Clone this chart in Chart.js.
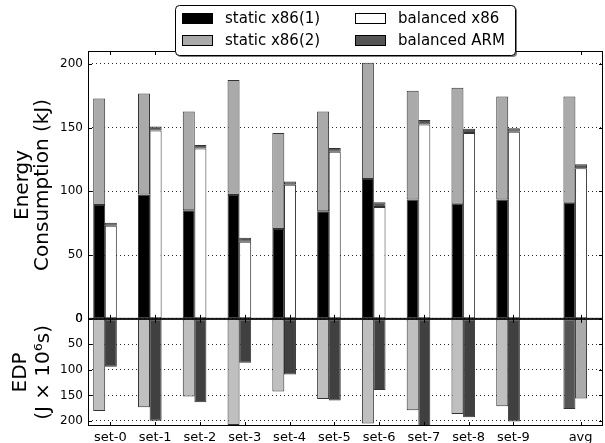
<!DOCTYPE html>
<html>
<head>
<meta charset="utf-8">
<script src="https://cdn.jsdelivr.net/npm/chart.js@4"></script>
<style>
  body { margin: 0; background: #fff; }
  canvas { display: block; }
</style>
</head>
<body>
<canvas id="grafico" width="605" height="443"></canvas>
<script>
// categorias e posicoes no eixo x (avg fica afastado)
const categories = ['set-0', 'set-1', 'set-2', 'set-3', 'set-4', 'set-5', 'set-6', 'set-7', 'set-8', 'set-9', 'avg'];
const catPos = [0, 1, 2, 3, 4, 5, 6, 7, 8, 9, 10.5];
const seriesNames = ['static x86(1)', 'static x86(2)', 'balanced x86', 'balanced ARM'];

// energia (kJ)
const staticX86_1 = [89.3, 97.4, 85.1, 97.1, 70.4, 84.3, 109.7, 93.5, 90.3, 93.5, 91.1];
const staticX86_2 = [83.5, 79.3, 77.5, 90.1, 75.4, 78.3, 91.1, 85.3, 90.9, 80.8, 83.2];
const balancedX86 = [73.0, 147.6, 133.5, 60.5, 105.2, 131.1, 87.7, 152.4, 145.8, 146.6, 118.1];
const balancedARM = [2.4, 3.2, 2.9, 3.1, 2.4, 2.9, 3.7, 3.6, 3.2, 2.9, 3.1];

// EDP (J x 10^6 s)
const edpStatic = [180.6, 173.3, 152.3, 208, 142.5, 157, 204.9, 179.2, 186.5, 171.4, 176.6];
const edpBalanced = [93.9, 199.6, 163.5, 86, 109, 160.2, 139.2, 220, 193, 201, 156.3];

const energyTicks = [0, 50, 100, 150, 200];
const edpTicks = [0, 50, 100, 150, 200];

const font = { family: 'DejaVu Sans', size: 12 };
const edge = '#333333';

const pts = (vals, shift) => vals.map((v, i) => ({ x: catPos[i] + shift, y: v }));

// molduras e marcas de escala para os dois paineis
const frame = {
    id: 'frame',
    afterDatasetsDraw(chart) {
        const ctx = chart.ctx;
        const x = chart.scales.x;
        ctx.save();
        ctx.strokeStyle = '#000';
        ctx.lineWidth = 1;
        ['yE', 'yD'].forEach(id => {
            const s = chart.scales[id];
            ctx.strokeRect(x.left + 0.5, s.top + 0.5, x.right - x.left - 1, s.bottom - s.top - 1);
            ctx.beginPath();
            catPos.forEach(p => {
                const px = Math.round(x.getPixelForValue(p)) + 0.5;
                ctx.moveTo(px, s.top); ctx.lineTo(px, s.top + 4);
                ctx.moveTo(px, s.bottom); ctx.lineTo(px, s.bottom - 4);
            });
            s.ticks.forEach(t => {
                const py = Math.round(s.getPixelForValue(t.value)) + 0.5;
                ctx.moveTo(x.left, py); ctx.lineTo(x.left + 4, py);
                ctx.moveTo(x.right, py); ctx.lineTo(x.right - 4, py);
            });
            ctx.stroke();
        });
        ctx.restore();
    }
};

// legenda em caixa sobre o topo do grafico
const boxLegend = {
    id: 'boxLegend',
    afterDraw(chart) {
        const ctx = chart.ctx;
        const bx = 175, by = 5, bw = 340, bh = 50;
        ctx.save();
        ctx.fillStyle = 'rgba(0,0,0,0.5)';
        ctx.beginPath(); ctx.roundRect(bx + 2, by + 2, bw, bh, 4); ctx.fill();
        ctx.fillStyle = '#fff';
        ctx.strokeStyle = '#000';
        ctx.lineWidth = 1;
        ctx.beginPath(); ctx.roundRect(bx + 0.5, by + 0.5, bw, bh, 4); ctx.fill(); ctx.stroke();
        const cols = [182, 355], rows = [13, 35];
        ctx.font = '15px "DejaVu Sans"';
        ctx.textBaseline = 'middle';
        chart.data.datasets.slice(0, 4).forEach((ds, i) => {
            const cx = cols[Math.floor(i / 2)], cy = rows[i % 2];
            ctx.fillStyle = ds.backgroundColor;
            ctx.fillRect(cx, cy, 31, 11);
            ctx.strokeStyle = '#000';
            ctx.strokeRect(cx + 0.5, cy + 0.5, 30, 10);
            ctx.fillStyle = '#000';
            ctx.fillText(ds.label, cx + 43, cy + 6);
        });
        ctx.restore();
    }
};

const edpStaticColors = categories.map(c => c === 'avg' ? '#555555' : '#bfbfbf');
const edpBalancedColors = categories.map(c => c === 'avg' ? '#aaaaaa' : '#404040');

new Chart(document.getElementById('grafico').getContext('2d'), {
    type: 'bar',
    data: {
        datasets: [
            { label: seriesNames[0], data: pts(staticX86_1, -0.25), yAxisID: 'yE', backgroundColor: '#000000' },
            { label: seriesNames[1], data: pts(staticX86_2, -0.25), yAxisID: 'yE', backgroundColor: '#aaaaaa' },
            { label: seriesNames[2], data: pts(balancedX86, 0.01), yAxisID: 'yE', backgroundColor: '#ffffff' },
            { label: seriesNames[3], data: pts(balancedARM, 0.01), yAxisID: 'yE', backgroundColor: '#555555' },
            { label: 'EDP static', data: pts(edpStatic, -0.25), yAxisID: 'yD', backgroundColor: edpStaticColors },
            { label: 'EDP balanced', data: pts(edpBalanced, 0.01), yAxisID: 'yD', backgroundColor: edpBalancedColors }
        ]
    },
    options: {
        responsive: false,
        animation: false,
        devicePixelRatio: 1,
        layout: { padding: { top: 51, right: 2, left: 0, bottom: 0 } },
        datasets: {
            bar: {
                grouped: false,
                categoryPercentage: 1,
                barPercentage: 1.03,
                borderWidth: 1,
                borderColor: edge,
                borderSkipped: false,
                clip: 0
            }
        },
        plugins: {
            legend: { display: false },
            tooltip: { enabled: false }
        },
        scales: {
            x: {
                type: 'linear',
                offset: false,
                min: -0.5,
                max: 11,
                afterBuildTicks: s => { s.ticks = catPos.map(v => ({ value: v })); },
                afterFit: s => { s.height = 17; },
                ticks: {
                    autoSkip: false,
                    maxRotation: 0,
                    padding: 4,
                    color: '#000',
                    font: { family: 'DejaVu Sans', size: 13 },
                    callback: v => categories[catPos.indexOf(v)] || ''
                },
                grid: { display: false, drawTicks: false, offset: false },
                border: { display: false }
            },
            yD: {
                type: 'linear',
                position: 'left',
                stack: 'paineis',
                stackWeight: 1,
                reverse: true,
                min: 0,
                max: 210,
                afterBuildTicks: s => { s.ticks = edpTicks.map(v => ({ value: v })); },
                afterFit: s => { s.width = 88; },
                ticks: { autoSkip: false, color: '#000', font: font, padding: 5 },
                grid: { color: 'rgba(0,0,0,0.85)', drawTicks: false },
                border: { display: false, dash: [1, 3] },
                title: {
                    display: true,
                    text: ['EDP', '(J × 10⁶s)'],
                    color: '#000',
                    font: { family: 'DejaVu Sans', size: 20, lineHeight: 1.15 },
                    padding: { top: 9, bottom: 0 }
                }
            },
            yE: {
                type: 'linear',
                position: 'left',
                stack: 'paineis',
                stackWeight: 2.5,
                stacked: true,
                min: 0,
                max: 210,
                afterBuildTicks: s => { s.ticks = energyTicks.map(v => ({ value: v })); },
                afterFit: s => { s.width = 88; },
                ticks: { autoSkip: false, color: '#000', font: font, padding: 5 },
                grid: { color: 'rgba(0,0,0,0.85)', drawTicks: false },
                border: { display: false, dash: [1, 3] },
                title: {
                    display: true,
                    text: ['Energy', 'Consumption (kJ)'],
                    color: '#000',
                    font: { family: 'DejaVu Sans', size: 20, lineHeight: 1.0 },
                    padding: { top: 13, bottom: 0 }
                }
            }
        }
    },
    plugins: [frame, boxLegend]
});
</script>
</body>
</html>
